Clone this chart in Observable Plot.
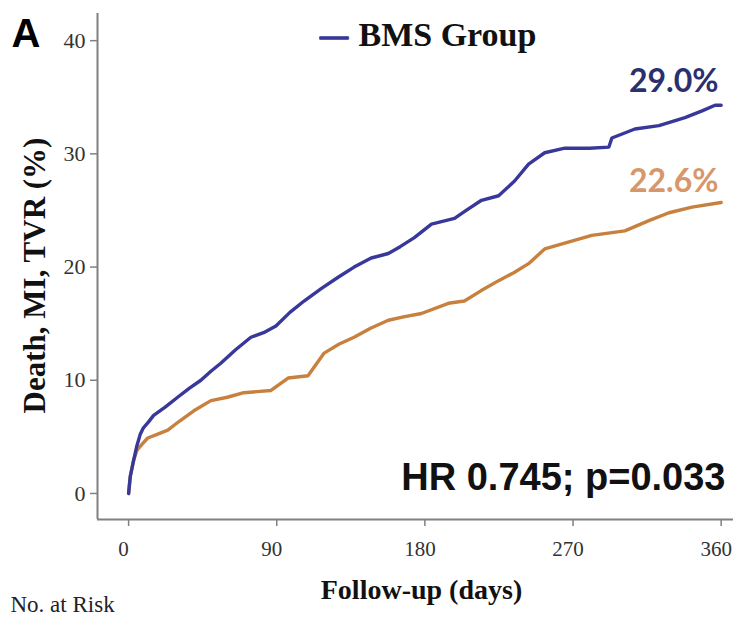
<!DOCTYPE html>
<html>
<head>
<meta charset="utf-8">
<script src="https://cdn.jsdelivr.net/npm/d3@7"></script>
<script src="https://cdn.jsdelivr.net/npm/@observablehq/plot@0.6"></script>
<style>
  html, body { margin: 0; padding: 0; background: #fff; }
  #chart svg { display: block; }
</style>
</head>
<body>
<div id="chart"></div>
<script>
// Blue curve: BMS group (cumulative Death, MI, TVR %)
const bmsDays = [0, 1, 3, 5, 7, 9, 12, 15.2, 22, 29.8, 37, 43.9, 50, 56, 65, 74.3, 82, 89.5, 98, 106.6, 117, 127.3, 137, 147.4, 157.8, 165, 173.6, 184, 198, 206, 214.4, 224.8, 234.5, 243, 252.8, 265, 280, 291.8, 293.6, 307.6, 322.2, 338, 348.4, 356.3, 360];
const bmsRisk = [0, 1.5, 2.9, 4.2, 5.2, 5.8, 6.3, 6.9, 7.6, 8.5, 9.3, 10.0, 10.8, 11.5, 12.7, 13.8, 14.2, 14.8, 16.0, 17.0, 18.1, 19.1, 20.0, 20.8, 21.2, 21.8, 22.6, 23.8, 24.3, 25.1, 25.9, 26.3, 27.6, 29.1, 30.1, 30.5, 30.5, 30.6, 31.4, 32.2, 32.5, 33.2, 33.8, 34.3, 34.3];
// Orange curve: comparison group
const desDays = [0, 1, 3, 5, 7.3, 11.6, 17, 23.8, 31, 39.6, 50, 60, 70, 78, 86.5, 96.9, 109, 118.8, 128, 137, 147, 157.8, 167, 177.9, 194.3, 204, 214, 224.8, 234, 243, 252.8, 269.2, 281.4, 301.5, 316.1, 328.3, 342.3, 360];
const desRisk = [0, 1.5, 2.9, 3.8, 4.2, 4.9, 5.2, 5.6, 6.4, 7.3, 8.2, 8.5, 8.9, 9.0, 9.1, 10.2, 10.4, 12.4, 13.2, 13.8, 14.6, 15.3, 15.6, 15.9, 16.8, 17.0, 17.9, 18.8, 19.5, 20.3, 21.6, 22.3, 22.8, 23.2, 24.1, 24.8, 25.3, 25.7];

const xTicks = [0, 90, 180, 270, 360];
const yTicks = [0, 10, 20, 30, 40];
const xDomain = [-18.9, 367.5];
const yDomain = [-2.3, 42.4];

const yLabel = "Death, MI, TVR (%)";
const xLabel = "Follow-up (days)";
const legendLabel = "BMS Group";
const bmsFinal = "29.0%";
const desFinal = "22.6%";
const hrText = "HR 0.745; p=0.033";
const panelLetter = "A";
const riskLabel = "No. at Risk";

const bms = bmsDays.map((d, i) => ({day: d, risk: bmsRisk[i]}));
const des = desDays.map((d, i) => ({day: d, risk: desRisk[i]}));

const BLUE = "#38389a";
const ORANGE = "#c8803f";
const serif = "'Liberation Serif', 'Times New Roman', serif";
const sans = "'Liberation Sans', Arial, sans-serif";
const calib = "Lato, 'Open Sans', sans-serif";

const chart = Plot.plot({
  width: 734,
  height: 617,
  marginLeft: 97,
  marginRight: 1,
  marginTop: 13,
  marginBottom: 98,
  style: {background: "#fff", overflow: "visible"},
  x: {domain: xDomain, ticks: xTicks, label: null},
  y: {domain: yDomain, ticks: yTicks, label: null},
  marks: [
    Plot.ruleX([xDomain[0]], {stroke: "#808080", strokeWidth: 2}),
    Plot.ruleY([yDomain[0]], {stroke: "#808080", strokeWidth: 2}),
    Plot.axisY(yTicks, {tickSize: 7, tickPadding: 5, fontSize: 22, fontFamily: serif, color: "#333", stroke: "#808080", strokeWidth: 1.5, label: null}),
    Plot.axisX(xTicks, {tickSize: 7, tickFormat: () => "", stroke: "#808080", strokeWidth: 1.5, label: null}),
    Plot.text(xTicks, {x: d => d, text: d => String(d), frameAnchor: "bottom", dx: -5, dy: 30, textAnchor: "middle", lineAnchor: "middle", fontSize: 21, fontFamily: serif, fill: "#333"}),
    Plot.line(des, {x: "day", y: "risk", stroke: ORANGE, strokeWidth: 3.4, strokeLinejoin: "round"}),
    Plot.line(bms, {x: "day", y: "risk", stroke: BLUE, strokeWidth: 3.4, strokeLinejoin: "round"}),
    // Legend
    Plot.text([0], {text: () => "—", frameAnchor: "top-left", dx: 236.5, dy: 22, textAnchor: "middle", lineAnchor: "middle", fontSize: 28, fontWeight: "bold", fontFamily: serif, fill: BLUE, stroke: BLUE, strokeWidth: 1.4}),
    Plot.text([legendLabel], {text: d => d, frameAnchor: "top-left", dx: 261, dy: 21.5, textAnchor: "start", lineAnchor: "middle", fontSize: 34, fontWeight: "bold", fontFamily: serif, fill: "#111"}),
    // Final percentages
    Plot.text([bmsFinal], {text: d => d, frameAnchor: "top-right", dx: -15, dy: 68.5, textAnchor: "end", lineAnchor: "middle", fontSize: 32, fontWeight: "bold", fontFamily: calib, fill: "#2b2f6e"}),
    Plot.text([desFinal], {text: d => d, frameAnchor: "top-right", dx: -15, dy: 168, textAnchor: "end", lineAnchor: "middle", fontSize: 32, fontWeight: "bold", fontFamily: calib, fill: "#d8976a"}),
    // HR annotation
    Plot.text([hrText], {text: d => d, frameAnchor: "bottom-right", dx: -8, dy: -41.5, textAnchor: "end", lineAnchor: "middle", fontSize: 38, fontWeight: "bold", fontFamily: sans, fill: "#111"}),
    // Axis titles
    Plot.text([yLabel], {text: d => d, frameAnchor: "left", dx: -62, dy: 9, rotate: -90, textAnchor: "middle", lineAnchor: "middle", fontSize: 31, fontWeight: "bold", fontFamily: serif, fill: "#111"}),
    Plot.text([xLabel], {text: d => d, frameAnchor: "bottom", dx: 6, dy: 71, textAnchor: "middle", lineAnchor: "middle", fontSize: 28, fontWeight: "bold", fontFamily: serif, fill: "#111"}),
    // Panel letter and risk table header
    Plot.text([panelLetter], {text: d => d, frameAnchor: "top-left", dx: -86, dy: 21, textAnchor: "start", lineAnchor: "middle", fontSize: 40, fontWeight: "bold", fontFamily: sans, fill: "#000"}),
    Plot.text([riskLabel], {text: d => d, frameAnchor: "bottom-left", dx: -87, dy: 85, textAnchor: "start", lineAnchor: "middle", fontSize: 23, fontFamily: serif, fill: "#222"})
  ]
});
document.getElementById("chart").appendChild(chart);
</script>
</body>
</html>
